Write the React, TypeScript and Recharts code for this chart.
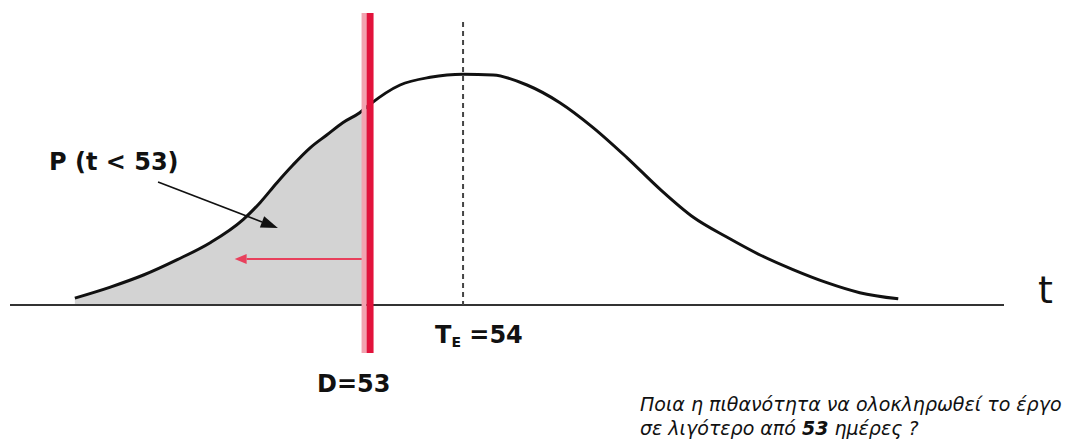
import React from 'react';
import { ComposedChart, Area, Line, XAxis, YAxis, ReferenceLine, Customized } from 'recharts';

// t in days, density
const tValues = [49.87, 50.24, 50.6, 50.96, 51.31, 51.66, 51.84, 52.02, 52.19, 52.37, 52.55, 52.72, 52.9, 53.0, 53.33, 53.65, 54.0, 54.32, 54.68, 55.03, 55.38, 55.74, 56.1, 56.45, 56.81, 57.16, 57.51, 57.87, 58.22, 58.63];
const density = [0.009, 0.023, 0.039, 0.059, 0.081, 0.111, 0.133, 0.159, 0.182, 0.204, 0.221, 0.237, 0.25, 0.26, 0.286, 0.296, 0.3, 0.299, 0.286, 0.263, 0.231, 0.192, 0.15, 0.114, 0.088, 0.065, 0.046, 0.029, 0.016, 0.008];

const deadline = 53;
const expected = 54;
const questionLines = ['Ποια η πιθανότητα να ολοκληρωθεί το έργο', 'σε λιγότερο από ', '53', ' ημέρες ?'];

const data = tValues.map((t, i) => ({
  t,
  p: density[i],
  shade: t <= deadline ? density[i] : null,
}));

const FONT = '"DejaVu Sans", Verdana, sans-serif';

const DoubleRed = (props: any) => {
  const { x1, y1, x2, y2 } = props;
  return (
    <g>
      <line x1={x1 - 5} x2={x2 - 5} y1={y1} y2={y2} stroke="#f2a3b0" strokeWidth={5} />
      <line x1={x1 + 1} x2={x2 + 1} y1={y1} y2={y2} stroke="#e2123b" strokeWidth={7} />
    </g>
  );
};

const makeArrow = (color: string, width: number, headLen: number, headW: number) => (props: any) => {
  const { x1, y1, x2, y2 } = props;
  const a = Math.atan2(y2 - y1, x2 - x1);
  const bx = x2 - headLen * Math.cos(a);
  const by = y2 - headLen * Math.sin(a);
  const nx = -Math.sin(a) * headW / 2;
  const ny = Math.cos(a) * headW / 2;
  return (
    <g>
      <line x1={x1} y1={y1} x2={bx} y2={by} stroke={color} strokeWidth={width} />
      <polygon points={`${x2},${y2} ${bx + nx},${by + ny} ${bx - nx},${by - ny}`} fill={color} />
    </g>
  );
};

const BlackArrow = makeArrow('#111', 1.6, 17, 12);
const RedArrow = makeArrow('#e8405c', 2, 12, 10);

const Labels = () => (
  <g fontFamily={FONT} fill="#111">
    <text x={49} y={170} fontSize={24} fontWeight="bold">P (t &lt; 53)</text>
    <text x={317} y={392} fontSize={24} fontWeight="bold">D=53</text>
    <text x={435} y={343} fontSize={24} fontWeight="bold">
      T<tspan fontSize={14} dy={4}>E</tspan><tspan dy={-4}> =54</tspan>
    </text>
    <text x={1038} y={303} fontSize={38}>t</text>
    <text x={640} y={411} fontSize={19} fontStyle="italic">{questionLines[0]}</text>
    <text x={640} y={435} fontSize={19} fontStyle="italic">
      {questionLines[1]}<tspan fontWeight="bold">{questionLines[2]}</tspan>{questionLines[3]}
    </text>
  </g>
);

export default function App() {
  return (
    <div style={{ position: 'absolute', left: 0, top: 0, width: 1076, height: 441, background: '#fff' }}>
      <ComposedChart width={1076} height={441} data={data} margin={{ top: 5, right: 72, bottom: 136, left: 10 }}>
        <XAxis dataKey="t" type="number" domain={[49.18, 59.755]} allowDataOverflow hide />
        <YAxis hide domain={[0, 0.39]} allowDataOverflow />
        <Area
          dataKey="shade"
          type="monotone"
          fill="#d3d3d3"
          fillOpacity={1}
          stroke="none"
          isAnimationActive={false}
        />
        <ReferenceLine y={0} stroke="#333" strokeWidth={2} ifOverflow="visible" />
        <ReferenceLine
          segment={[{ x: expected, y: 0.368 }, { x: expected, y: 0 }]}
          stroke="#444"
          strokeWidth={2}
          strokeDasharray="5 4"
          ifOverflow="visible"
        />
        <Line dataKey="p" type="monotone" stroke="#111" strokeWidth={3} dot={false} isAnimationActive={false} />
        <ReferenceLine
          segment={[{ x: 52.95, y: 0.0598 }, { x: 51.57, y: 0.0598 }]}
          shape={RedArrow}
          ifOverflow="visible"
        />
        <ReferenceLine
          segment={[{ x: 50.755, y: 0.16 }, { x: 52.03, y: 0.1 }]}
          shape={BlackArrow}
          ifOverflow="visible"
        />
        <ReferenceLine
          segment={[{ x: deadline, y: 0.3796 }, { x: deadline, y: -0.0624 }]}
          shape={DoubleRed}
          ifOverflow="visible"
        />
        <Customized component={Labels} />
      </ComposedChart>
    </div>
  );
}
